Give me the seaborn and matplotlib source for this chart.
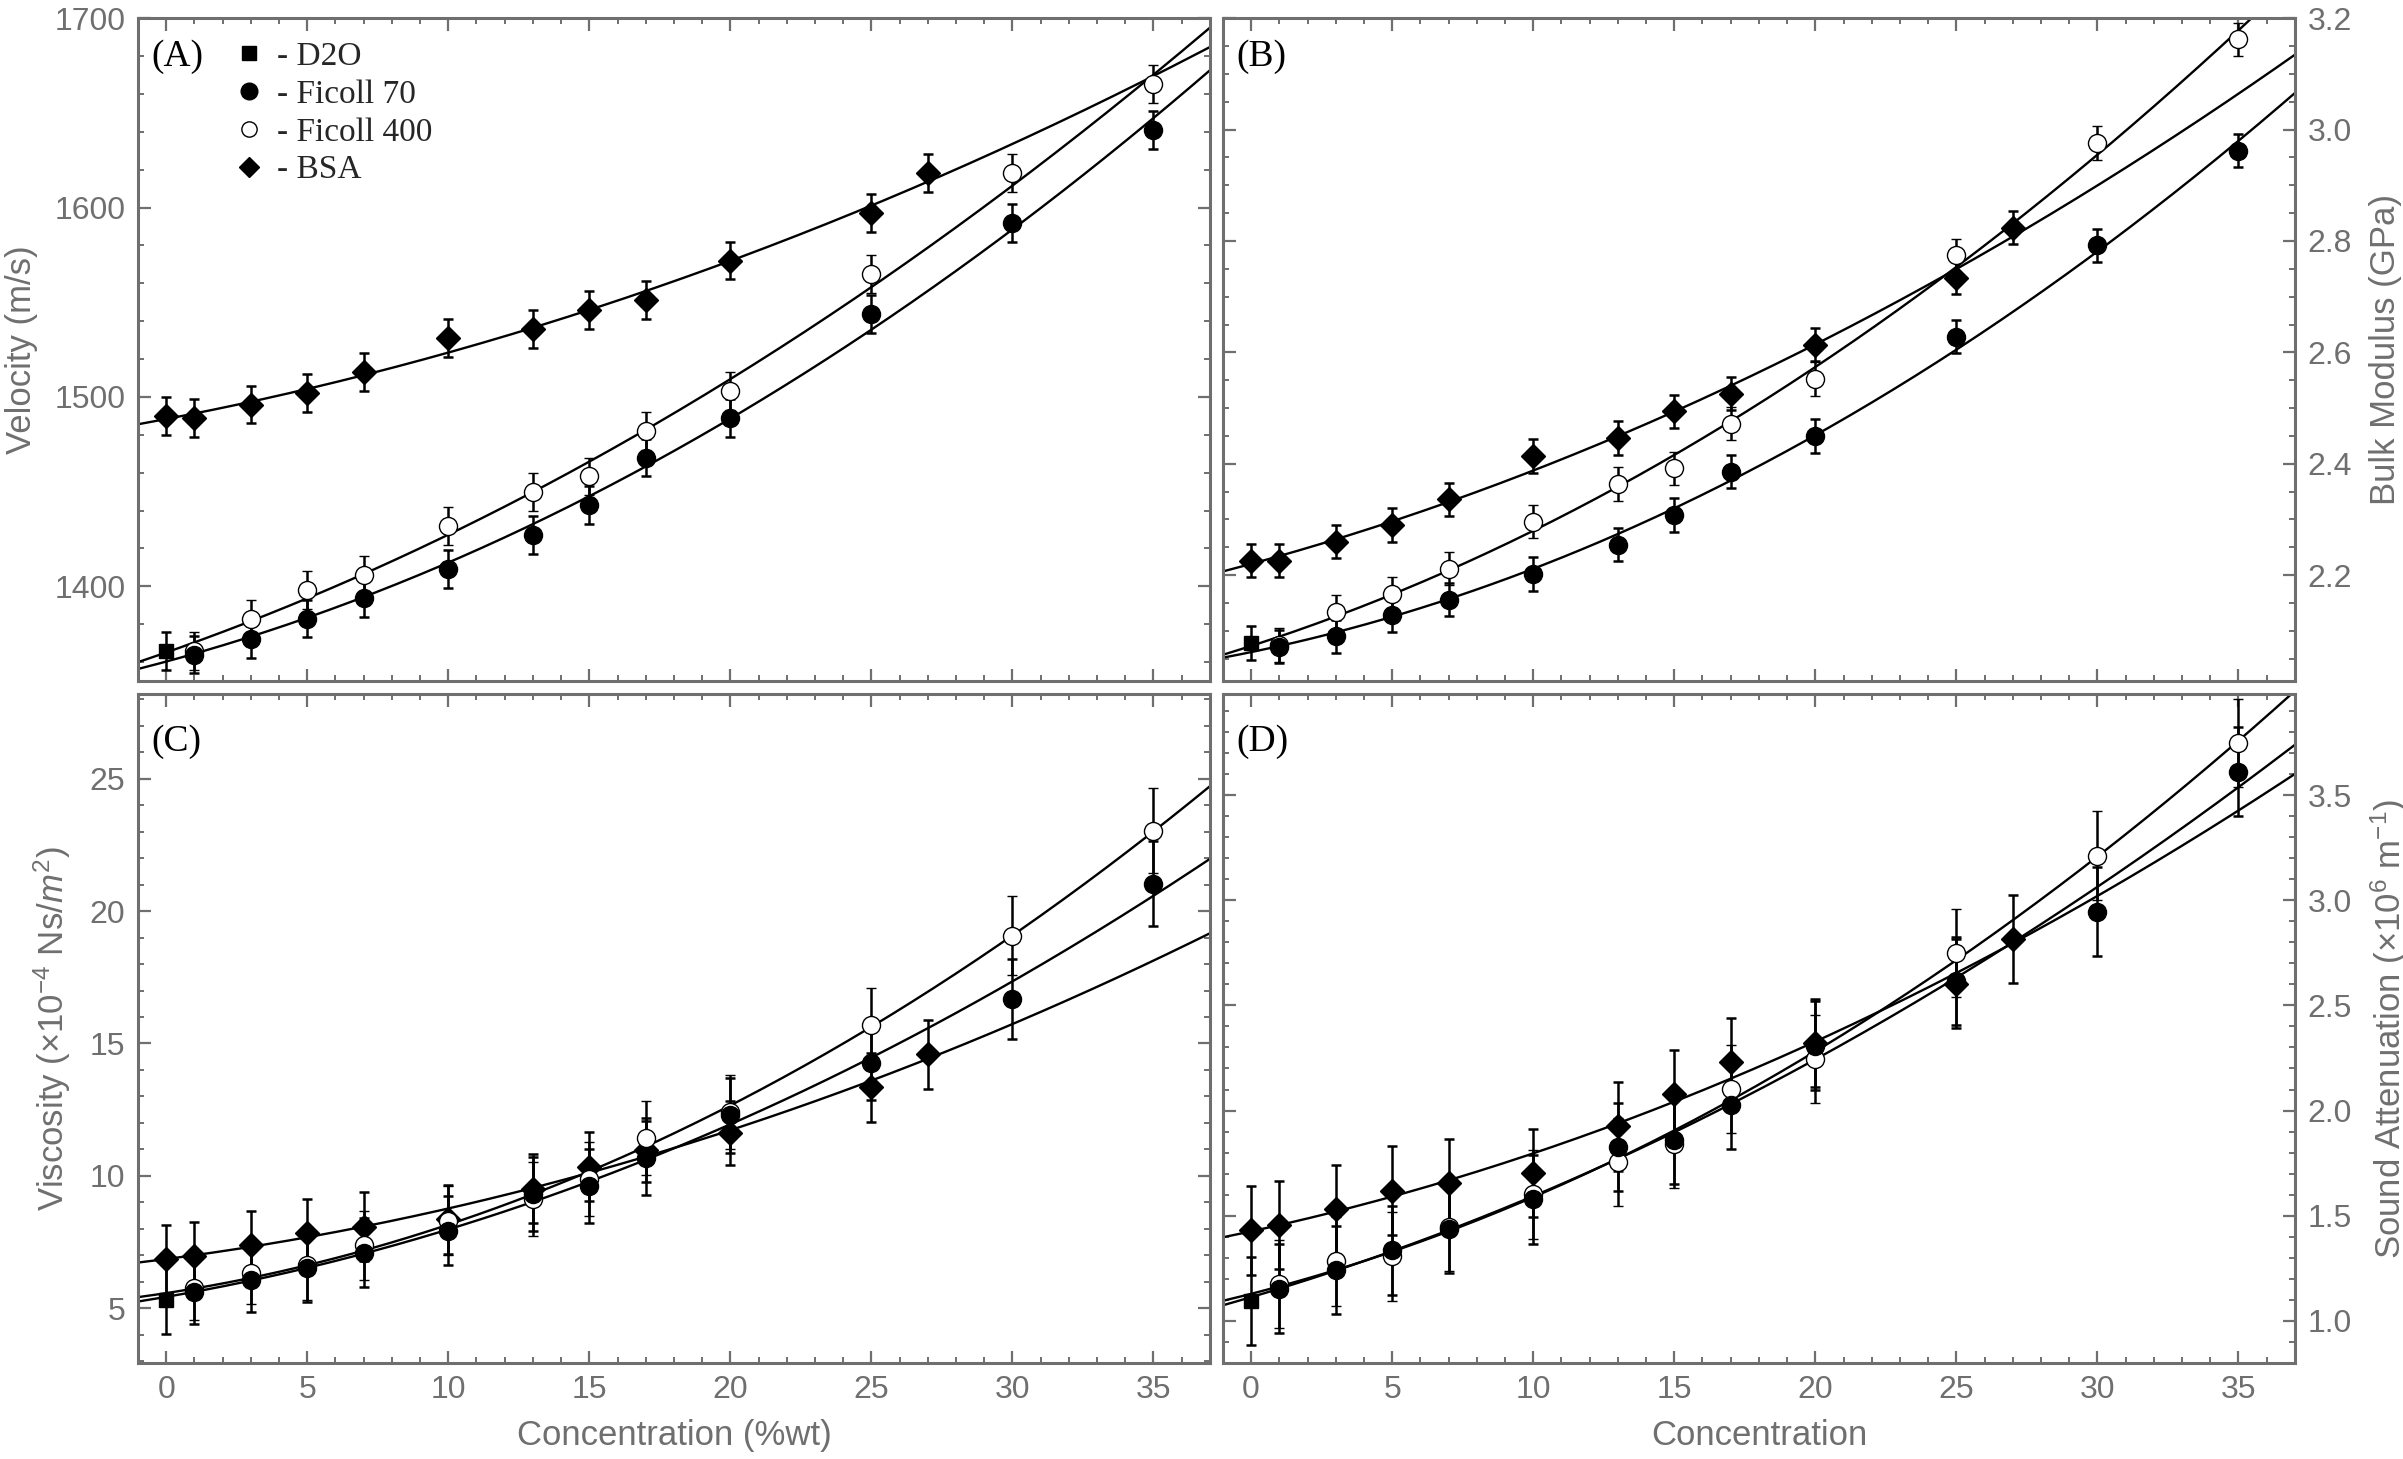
import numpy as np
import pandas as pd
import seaborn as sns
import matplotlib.pyplot as plt
from matplotlib.lines import Line2D
from matplotlib.ticker import MultipleLocator

sns.set_theme(style="ticks")
plt.rcParams['font.family'] = ['Liberation Sans', 'DejaVu Sans']
plt.rcParams['mathtext.fontset'] = 'custom'
plt.rcParams['mathtext.rm'] = 'Liberation Sans'
plt.rcParams['mathtext.it'] = 'Liberation Sans:italic'

GREY = '#6f6f6f'

# concentrations (%wt)
conc_d2o = [0]
conc_ficoll = [1, 3, 5, 7, 10, 13, 15, 17, 20, 25, 30, 35]
conc_bsa = [0, 1, 3, 5, 7, 10, 13, 15, 17, 20, 25, 27]

# (A) velocity, m/s
vel_d2o = [1366]
vel_f70 = [1364, 1372, 1383, 1394, 1409, 1427, 1443, 1468, 1489, 1544, 1592, 1641]
vel_f400 = [1366, 1383, 1398, 1406, 1432, 1450, 1458, 1482, 1503, 1565, 1618, 1665]
vel_bsa = [1490, 1489, 1496, 1502, 1513, 1531, 1536, 1546, 1551, 1572, 1597, 1618]
vel_err = 10

# (B) bulk modulus, GPa
bulk_d2o = [2.078]
bulk_f70 = [2.072, 2.090, 2.128, 2.156, 2.202, 2.255, 2.308, 2.386, 2.450, 2.628, 2.792, 2.962]
bulk_f400 = [2.075, 2.134, 2.166, 2.212, 2.296, 2.364, 2.392, 2.472, 2.552, 2.774, 2.976, 3.162]
bulk_bsa = [2.226, 2.226, 2.260, 2.290, 2.336, 2.414, 2.446, 2.494, 2.526, 2.614, 2.734, 2.824]
bulk_err = 0.03

# (C) viscosity, 1e-4 Ns/m^2
visc_d2o = [5.32]
visc_f70 = [5.60, 6.06, 6.53, 7.09, 7.93, 9.33, 9.60, 10.67, 12.28, 14.27, 16.68, 21.04]
visc_f400 = [5.75, 6.34, 6.62, 7.37, 8.30, 9.14, 9.89, 11.42, 12.41, 15.71, 19.07, 23.04]
visc_bsa = [6.85, 6.96, 7.37, 7.84, 8.08, 8.36, 9.51, 10.35, 10.97, 11.62, 13.34, 14.59]
visc_err_d2o = 1.3
visc_err_f = [1.2, 1.2, 1.3, 1.3, 1.3, 1.4, 1.4, 1.4, 1.4, 1.4, 1.5, 1.6]
visc_err_bsa = [1.3, 1.3, 1.3, 1.3, 1.3, 1.3, 1.3, 1.3, 1.2, 1.2, 1.3, 1.3]

# (D) sound attenuation, 1e6 1/m
att_d2o = [1.095]
att_f70 = [1.154, 1.241, 1.335, 1.437, 1.578, 1.826, 1.861, 2.026, 2.309, 2.616, 2.946, 3.611]
att_f400 = [1.177, 1.283, 1.307, 1.448, 1.601, 1.755, 1.842, 2.104, 2.245, 2.750, 3.212, 3.748]
att_bsa = [1.430, 1.455, 1.530, 1.620, 1.656, 1.703, 1.925, 2.078, 2.231, 2.320, 2.604, 2.816]
att_err = 0.21

panels = [
    dict(tag='(A)', d2o=vel_d2o, f70=vel_f70, f400=vel_f400, bsa=vel_bsa,
         err_d2o=vel_err, err=vel_err, err_bsa=vel_err, ylim=(1350, 1700), major=100, minor=20,
         ylabel='Velocity (m/s)', side='left', fmt='%d'),
    dict(tag='(B)', d2o=bulk_d2o, f70=bulk_f70, f400=bulk_f400, bsa=bulk_bsa,
         err_d2o=bulk_err, err=bulk_err, err_bsa=bulk_err, ylim=(2.01, 3.2), major=0.2, minor=0.05,
         ylabel='Bulk Modulus (GPa)', side='right', fmt='%.1f'),
    dict(tag='(C)', d2o=visc_d2o, f70=visc_f70, f400=visc_f400, bsa=visc_bsa,
         err_d2o=visc_err_d2o, err=visc_err_f, err_bsa=visc_err_bsa, ylim=(2.93, 28.2),
         major=5, minor=1, ylabel='Viscosity (×10$^{-4}$ Ns/$m^2$)', side='left', fmt='%d'),
    dict(tag='(D)', d2o=att_d2o, f70=att_f70, f400=att_f400, bsa=att_bsa,
         err_d2o=att_err, err=att_err, err_bsa=att_err, ylim=(0.8, 3.98), major=0.5, minor=0.1,
         ylabel='Sound Attenuation (×10$^6$ m$^{-1}$)', side='right', fmt='%.1f'),
]

fig = plt.figure(figsize=(24.03, 14.59), dpi=100)
rects = [
    [0.0574, 0.5332, 0.4461, 0.4544],
    [0.5089, 0.5332, 0.4461, 0.4544],
    [0.0574, 0.0658, 0.4461, 0.4585],
    [0.5089, 0.0658, 0.4461, 0.4585],
]

xfit = np.linspace(-1, 37, 300)
serif = ['Liberation Serif', 'DejaVu Serif']

for i, (p, r) in enumerate(zip(panels, rects)):
    ax = fig.add_axes(r)

    # quadratic fits through each series
    rows = []
    fx_f = conc_d2o + conc_ficoll
    for name, xs, ys in [('f70', fx_f, p['d2o'] + p['f70']),
                         ('f400', fx_f, p['d2o'] + p['f400']),
                         ('bsa', conc_bsa, p['bsa'])]:
        c = np.polyfit(xs, ys, 2)
        rows.append(pd.DataFrame({'conc': xfit, 'val': np.polyval(c, xfit), 'series': name}))
    fits = pd.concat(rows)
    sns.lineplot(data=fits, x='conc', y='val', units='series', estimator=None,
                 color='black', lw=1.7, ax=ax, zorder=2, legend=False)

    ekw = dict(ecolor='black', elinewidth=1.8, capsize=3.5, capthick=1.8, ls='none', zorder=3)
    ax.errorbar(conc_bsa, p['bsa'], yerr=p['err_bsa'], fmt='D', ms=12.5,
                mfc='black', mec='black', **ekw)
    ax.errorbar(conc_ficoll, p['f400'], yerr=p['err'], fmt='o', ms=13,
                mfc='white', mec='black', mew=1.0, **ekw)
    ax.errorbar(conc_ficoll, p['f70'], yerr=p['err'], fmt='o', ms=13,
                mfc='black', mec='black', **ekw)
    ax.errorbar(conc_d2o, p['d2o'], yerr=p['err_d2o'], fmt='s', ms=10.5,
                mfc='black', mec='black', **ekw)

    ax.set_xlim(-1, 37)
    ax.set_ylim(*p['ylim'])
    ax.xaxis.set_major_locator(MultipleLocator(5))
    ax.xaxis.set_minor_locator(MultipleLocator(1))
    ax.yaxis.set_major_locator(MultipleLocator(p['major']))
    ax.yaxis.set_minor_locator(MultipleLocator(p['minor']))
    ax.yaxis.set_major_formatter(plt.FormatStrFormatter(p['fmt']))

    right = p['side'] == 'right'
    ax.tick_params(which='both', direction='in', top=True, bottom=True, left=True, right=True,
                   color=GREY, labelcolor=GREY, labelsize=23,
                   labelleft=not right, labelright=right, labelbottom=i >= 2)
    ax.tick_params(which='major', length=9, width=1.6, pad=9)
    ax.tick_params(which='minor', length=4.5, width=1.4)
    for s in ax.spines.values():
        s.set_color(GREY)
        s.set_linewidth(2.2)

    ax.set_ylabel(p['ylabel'], fontsize=25, color=GREY, labelpad=12)
    if right:
        ax.yaxis.set_label_position('right')
    if i == 2:
        ax.set_xlabel('Concentration (%wt)', fontsize=25, color=GREY, labelpad=10)
    elif i == 3:
        ax.set_xlabel('Concentration', fontsize=25, color=GREY, labelpad=10)
    else:
        ax.set_xlabel('')

    ytxt = 0.968 if i < 2 else 0.955
    ax.text(0.013, ytxt, p['tag'], transform=ax.transAxes, ha='left', va='top',
            fontsize=27, family=serif, color='black')

    if i == 0:
        handles = [
            Line2D([], [], ls='none', marker='s', ms=10, mfc='black', mec='black'),
            Line2D([], [], ls='none', marker='o', ms=12, mfc='black', mec='black'),
            Line2D([], [], ls='none', marker='o', ms=11, mfc='white', mec='black', mew=1.0),
            Line2D([], [], ls='none', marker='D', ms=10, mfc='black', mec='black'),
        ]
        labels = ['- D2O', '- Ficoll 70', '- Ficoll 400', '- BSA']
        ax.legend(handles, labels, loc='upper left', bbox_to_anchor=(0.066, 1.005),
                  frameon=False, handlelength=0.8, handletextpad=0.45, labelspacing=0.22,
                  borderpad=0.3, prop={'family': serif, 'size': 24})

fig.savefig('out.png', dpi=100)
